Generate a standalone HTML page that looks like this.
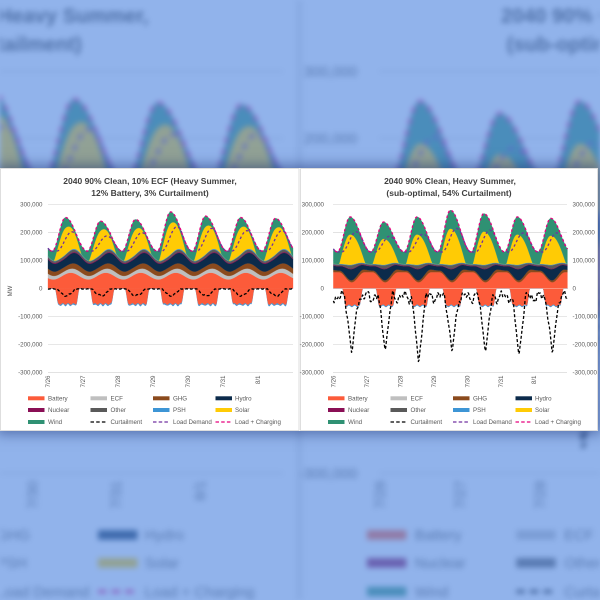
<!DOCTYPE html>
<html><head><meta charset="utf-8"><title>2040 90% Clean charts</title>
<style>
html,body{margin:0;padding:0;width:600px;height:600px;overflow:hidden;background:#fff;font-family:"Liberation Sans",Arial,sans-serif;}
.abs{position:absolute;left:0;top:0;width:600px;height:600px;overflow:hidden;}
#bgwrap{filter:blur(3px);}
#tint{background:rgba(88,140,225,0.66);}
#shadow{position:absolute;left:0;top:168px;width:598px;height:263px;box-shadow:0 0 12px 3px rgba(25,45,110,0.5);background:#fff;}
svg{display:block;}
svg text{font-family:"Liberation Sans",Arial,sans-serif;}
</style></head><body>
<div id="bgwrap" class="abs"><svg id="bgsvg" width="600" height="600" viewBox="0 0 600 600" xmlns="http://www.w3.org/2000/svg"><g id="bgg" transform="matrix(2.39,0,0,2.39,-417,-417)"></g></svg></div>
<div id="tint" class="abs"></div>
<div id="shadow"></div>
<div id="fg" class="abs">
<svg id="fgsvg" width="600" height="600" viewBox="0 0 600 600" xmlns="http://www.w3.org/2000/svg">
<rect x="0.5" y="168.5" width="298.5" height="262" fill="#fff" stroke="#d6d6d6" stroke-width="0.8"/>
<rect x="300.5" y="168.5" width="297" height="262" fill="#fff" stroke="#d6d6d6" stroke-width="0.8"/>
<g stroke="#d9d9d9" stroke-width="0.7">
<line x1="48" x2="293" y1="204.31" y2="204.31"/><line x1="48" x2="293" y1="232.34" y2="232.34"/><line x1="48" x2="293" y1="260.37" y2="260.37"/><line x1="48" x2="293" y1="288.4" y2="288.4"/><line x1="48" x2="293" y1="316.43" y2="316.43"/><line x1="48" x2="293" y1="344.46" y2="344.46"/><line x1="48" x2="293" y1="372.49" y2="372.49"/>
<line x1="333" x2="567" y1="204.31" y2="204.31"/><line x1="333" x2="567" y1="232.34" y2="232.34"/><line x1="333" x2="567" y1="260.37" y2="260.37"/><line x1="333" x2="567" y1="288.4" y2="288.4"/><line x1="333" x2="567" y1="316.43" y2="316.43"/><line x1="333" x2="567" y1="344.46" y2="344.46"/><line x1="333" x2="567" y1="372.49" y2="372.49"/>
</g>
<g id="seriesL"></g>
<g id="seriesR"></g>
<line x1="333" x2="567" y1="288.4" y2="288.4" stroke="rgba(255,255,255,0.5)" stroke-width="0.6"/>
<g font-size="8.5" font-weight="bold" fill="#404040" text-anchor="middle">
<text x="150" y="183.8">2040 90% Clean, 10% ECF (Heavy Summer,</text>
<text x="150" y="195.8">12% Battery, 3% Curtailment)</text>
<text x="450" y="183.8">2040 90% Clean, Heavy Summer,</text>
<text x="449" y="195.8">(sub-optimal, 54% Curtailment)</text>
</g>
<g font-size="6.2" fill="#595959" text-anchor="end">
<text x="42.5" y="206.5">300,000</text><text x="42.5" y="234.5">200,000</text><text x="42.5" y="262.6">100,000</text><text x="42.5" y="290.6">0</text><text x="42.5" y="318.6">-100,000</text><text x="42.5" y="346.7">-200,000</text><text x="42.5" y="374.7">-300,000</text>
<text x="324" y="206.5">300,000</text><text x="324" y="234.5">200,000</text><text x="324" y="262.6">100,000</text><text x="324" y="290.6">0</text><text x="324" y="318.6">-100,000</text><text x="324" y="346.7">-200,000</text><text x="324" y="374.7">-300,000</text>
</g>
<g font-size="6.2" fill="#595959" text-anchor="start">
<text x="572.5" y="206.5">300,000</text><text x="572.5" y="234.5">200,000</text><text x="572.5" y="262.6">100,000</text><text x="572.5" y="290.6">0</text><text x="572.5" y="318.6">-100,000</text><text x="572.5" y="346.7">-200,000</text><text x="572.5" y="374.7">-300,000</text>
</g>
<text transform="translate(12,291) rotate(-90)" font-size="6" fill="#595959" text-anchor="middle">MW</text>
<g font-size="6.2" fill="#595959" text-anchor="end">
<text transform="translate(50.2,375.5) rotate(-90)">7/26</text>
<text transform="translate(85.2,375.5) rotate(-90)">7/27</text>
<text transform="translate(120.2,375.5) rotate(-90)">7/28</text>
<text transform="translate(155.2,375.5) rotate(-90)">7/29</text>
<text transform="translate(190.2,375.5) rotate(-90)">7/30</text>
<text transform="translate(225.2,375.5) rotate(-90)">7/31</text>
<text transform="translate(260.2,375.5) rotate(-90)">8/1</text>
<text transform="translate(335.6,375.5) rotate(-90)">7/26</text>
<text transform="translate(369,375.5) rotate(-90)">7/27</text>
<text transform="translate(402.5,375.5) rotate(-90)">7/28</text>
<text transform="translate(435.9,375.5) rotate(-90)">7/29</text>
<text transform="translate(469.3,375.5) rotate(-90)">7/30</text>
<text transform="translate(502.8,375.5) rotate(-90)">7/31</text>
<text transform="translate(536.2,375.5) rotate(-90)">8/1</text>
</g>
<g>
<rect x="28" y="396.3" width="16.5" height="4" fill="#fc5b3a"/>
<rect x="90.5" y="396.3" width="16.5" height="4" fill="#bfbfbf"/>
<rect x="153" y="396.3" width="16.5" height="4" fill="#8b4a1d"/>
<rect x="215.5" y="396.3" width="16.5" height="4" fill="#0c2b4b"/>
<rect x="28" y="408" width="16.5" height="4" fill="#8a0f55"/>
<rect x="90.5" y="408" width="16.5" height="4" fill="#5a5a5a"/>
<rect x="153" y="408" width="16.5" height="4" fill="#3d95d5"/>
<rect x="215.5" y="408" width="16.5" height="4" fill="#ffcb05"/>
<rect x="28" y="420" width="16.5" height="4" fill="#2f9173"/>
<line x1="90.5" x2="107" y1="422" y2="422" stroke="#000" stroke-width="1.3" stroke-dasharray="3.5 2.2"/>
<line x1="153" x2="169.5" y1="422" y2="422" stroke="#7030a0" stroke-width="1.3" stroke-dasharray="3.5 2.2"/>
<line x1="215.5" x2="232" y1="422" y2="422" stroke="#e6007e" stroke-width="1.3" stroke-dasharray="3.5 2.2"/>
<rect x="328" y="396.3" width="16.5" height="4" fill="#fc5b3a"/>
<rect x="390.5" y="396.3" width="16.5" height="4" fill="#bfbfbf"/>
<rect x="453" y="396.3" width="16.5" height="4" fill="#8b4a1d"/>
<rect x="515.5" y="396.3" width="16.5" height="4" fill="#0c2b4b"/>
<rect x="328" y="408" width="16.5" height="4" fill="#8a0f55"/>
<rect x="390.5" y="408" width="16.5" height="4" fill="#5a5a5a"/>
<rect x="453" y="408" width="16.5" height="4" fill="#3d95d5"/>
<rect x="515.5" y="408" width="16.5" height="4" fill="#ffcb05"/>
<rect x="328" y="420" width="16.5" height="4" fill="#2f9173"/>
<line x1="390.5" x2="407" y1="422" y2="422" stroke="#000" stroke-width="1.3" stroke-dasharray="3.5 2.2"/>
<line x1="453" x2="469.5" y1="422" y2="422" stroke="#7030a0" stroke-width="1.3" stroke-dasharray="3.5 2.2"/>
<line x1="515.5" x2="532" y1="422" y2="422" stroke="#e6007e" stroke-width="1.3" stroke-dasharray="3.5 2.2"/>
</g>
<g font-size="6.2" fill="#595959">
<text x="48" y="400.5">Battery</text><text x="110.5" y="400.5">ECF</text><text x="173" y="400.5">GHG</text><text x="235" y="400.5">Hydro</text>
<text x="48" y="412.2">Nuclear</text><text x="110.5" y="412.2">Other</text><text x="173" y="412.2">PSH</text><text x="235" y="412.2">Solar</text>
<text x="48" y="424.2">Wind</text><text x="110.5" y="424.2">Curtailment</text><text x="173" y="424.2">Load Demand</text><text x="235" y="424.2">Load + Charging</text>
<text x="348" y="400.5">Battery</text><text x="410.5" y="400.5">ECF</text><text x="473" y="400.5">GHG</text><text x="535" y="400.5">Hydro</text>
<text x="348" y="412.2">Nuclear</text><text x="410.5" y="412.2">Other</text><text x="473" y="412.2">PSH</text><text x="535" y="412.2">Solar</text>
<text x="348" y="424.2">Wind</text><text x="410.5" y="424.2">Curtailment</text><text x="473" y="424.2">Load Demand</text><text x="535" y="424.2">Load + Charging</text>
</g>
</svg>
</div>
<script>
(function(){
var Y0=288.4,KY=0.2803,PI=Math.PI;
function cosb(d,hw){if(Math.abs(d)>=hw)return 0;var c=Math.cos(PI/2*d/hw);return c*c;}
function wd(p,c){var d=p-c;return d-Math.round(d);}
function bump(p,c,hw){return cosb(wd(p,c),hw);}
function hump(q){if(q<0.12||q>1.12)return 0;if(q<=0.5){var s=Math.sin(PI/2*(q-0.12)/0.38);return s*s;}var c=Math.cos(PI/2*(q-0.5)/0.62);return c*c;}
function lhump(q){if(q<0.25||q>1.15)return 0;if(q<=0.68){var s=Math.sin(PI/2*(q-0.25)/0.43);return s*s;}var c=Math.cos(PI/2*(q-0.68)/0.47);return c*c;}
function sol(q){if(q<0.17||q>0.96)return 0;if(q<=0.5)return Math.pow(Math.sin(PI/2*(q-0.17)/0.33),1.1);return Math.pow(Math.cos(PI/2*(q-0.5)/0.46),1.1);}
function ss(x){x=Math.max(0,Math.min(1,x));return x*x*(3-2*x);}
function plat(p,a,b,e){return ss((p-a)/e)*ss((b-p)/e);}
function dv(a,d){return a[Math.max(0,Math.min(a.length-1,d))];}
function total(t,c){var v=c.tr;for(var d=-1;d<8;d++)v+=(dv(c.pk,d)-c.tr)*hump(t-d);return v;}
function loadf(t,c){var v=c.lb;for(var d=-1;d<8;d++)v+=(dv(c.lp,d)-c.lb)*lhump(t-d);return v;}
var CL={x0:48,dw:35,tr:133,pk:[253,240,246,273,258,253,250],lb:133,lp:[202,187,199,220,214,206,206],
 f:function(t,p,d){var v={};
  v.bat=32+24*bump(p,0.65,0.5);
  v.ecf=12+5*bump(p,0.85,0.4);
  v.ghg=15+5*bump(p,0.85,0.4);
  v.hyd=28+10*bump(p,0.8,0.4);
  v.nuc=3;
  v.oth=6+3*bump(p,0.6,0.4);
  v.psh=2+1.5*bump(p,0.85,0.3);
  v.sol=92*(dv(this.pk,d)-this.tr)/117*sol(p);
  v.batN=(55+3*Math.sin(t*41))*plat(p,0.2,0.9,0.1);
  v.pshN=0.8+3.5*plat(p,0.2,0.9,0.1)*(1+0.4*Math.sin(t*53));
  v.cur=2+(24+3*Math.sin(t*29))*Math.pow(bump(p,0.52,0.25),0.5)+0.8*Math.sin(t*71);
  v.wmin=10;return v;}};
var CR={x0:333.4,dw:33.43,tr:130,pk:[255,237,255,279,267,255,250],lb:130,lp:[202,186,194,214,208,198,198],D:[237,225,272,231,231,243,237],
 f:function(t,p,d){var v={};
  v.bat=58-36*bump(p,0.55,0.38);
  v.ecf=0;
  v.ghg=6+5*bump(p,0.8,0.35);
  v.hyd=15+25*bump(p,0.55,0.4);
  v.nuc=2;
  v.oth=4+8*bump(p,0.55,0.35);
  v.psh=2;
  v.sol=108*(dv(this.pk,d)-this.tr)/125*sol(p);
  v.batN=(60+3*Math.sin(t*37))*plat(p,0.27,0.88,0.1);
  v.pshN=0.5+3*plat(p,0.27,0.88,0.1);
  var n=30+12*Math.sin(2*PI*t*2.7+0.5)+9*Math.sin(2*PI*t*5.3+1.7)+6*Math.sin(2*PI*t*11.1);
  if(n<4)n=4;
  var dd=Math.abs(wd(p,0.55));
  var vs=dd<0.22?Math.pow(1-dd/0.22,1.2):0;
  var di=Math.round(t-0.55);
  v.cur=n+(dv(this.D,di)-n)*vs;
  v.wmin=20;return v;}};
var COL={bat:'#fc5b3a',ecf:'#bfbfbf',ghg:'#8b4a1d',hyd:'#0c2b4b',nuc:'#8a0f55',oth:'#5a5a5a',psh:'#3d95d5',sol:'#ffcb05',win:'#2f9173'};
var ORDER=['bat','ecf','ghg','hyd','nuc','oth','psh','sol','win'];
function Y(v){return Y0-v*KY;}
function band(xs,lo,up,col){
  var d='M'+xs[0].toFixed(2)+','+Y(up[0]).toFixed(2);
  for(var i=1;i<xs.length;i++)d+='L'+xs[i].toFixed(2)+','+Y(up[i]).toFixed(2);
  for(var j=xs.length-1;j>=0;j--)d+='L'+xs[j].toFixed(2)+','+Y(lo[j]).toFixed(2);
  return '<path d="'+d+'Z" fill="'+col+'" stroke="'+col+'" stroke-width="0.3"/>';
}
function line(xs,vals,col,w,dash,off){
  var d='M'+xs[0].toFixed(2)+','+Y(vals[0]).toFixed(2);
  for(var i=1;i<xs.length;i++)d+='L'+xs[i].toFixed(2)+','+Y(vals[i]).toFixed(2);
  return '<path d="'+d+'" fill="none" stroke="'+col+'" stroke-width="'+w+'" stroke-dasharray="'+dash+'" stroke-dashoffset="'+(off||0)+'" stroke-linejoin="round"/>';
}
function render(c){
  var PER=48,N=7*PER,xs=[],rows=[],i,k;
  for(i=0;i<=N;i++){
    var t=i/PER,fl=Math.floor(t),p=t-fl,d=Math.min(6,fl);
    var T=total(t,c),v=c.f(t,p,d),s=0;
    for(k=0;k<ORDER.length;k++){if(ORDER[k]!=='win')s+=v[ORDER[k]];}
    v.win=Math.max(v.wmin,T-s);v.top=s+v.win;v.load=Math.min(v.top,loadf(t,c));
    rows.push(v);xs.push(c.x0+t*c.dw);
  }
  var out='',lower=[];for(i=0;i<=N;i++)lower.push(0);
  for(k=0;k<ORDER.length;k++){
    var key=ORDER[k],upper=[],any=false;
    for(i=0;i<=N;i++){upper.push(lower[i]+rows[i][key]);if(rows[i][key]>0.01)any=true;}
    if(any)out+=band(xs,lower,upper,COL[key]);
    lower=upper;
  }
  var z=[],u1=[],u2=[],cur=[],ld=[],tp=[];
  for(i=0;i<=N;i++){z.push(0);u1.push(-rows[i].batN);u2.push(-rows[i].batN-rows[i].pshN);cur.push(-rows[i].cur);ld.push(rows[i].load);tp.push(rows[i].top);}
  out+=band(xs,u1,u2,COL.psh);
  out+=band(xs,z,u1,COL.bat);
  out+=line(xs,cur,'#000',1.3,'3 2',0);
  out+=line(xs,ld,'#7030a0',1.3,'2.5 2.5',0);
  out+=line(xs,tp,'#e6007e',1.3,'2.5 2.5',2.5);
  return out;
}
document.getElementById('seriesL').innerHTML=render(CL);
document.getElementById('seriesR').innerHTML=render(CR);
var src=document.getElementById('fgsvg'),dst=document.getElementById('bgg');
for(var q=0;q<src.childNodes.length;q++){
  var n=src.childNodes[q].cloneNode(true);
  if(n.nodeType===1){
    if(n.removeAttribute)n.removeAttribute('id');
    var ids=n.querySelectorAll?n.querySelectorAll('[id]'):[];
    for(var r=0;r<ids.length;r++)ids[r].removeAttribute('id');
  }
  dst.appendChild(n);
}
})();
</script>
</body></html>
